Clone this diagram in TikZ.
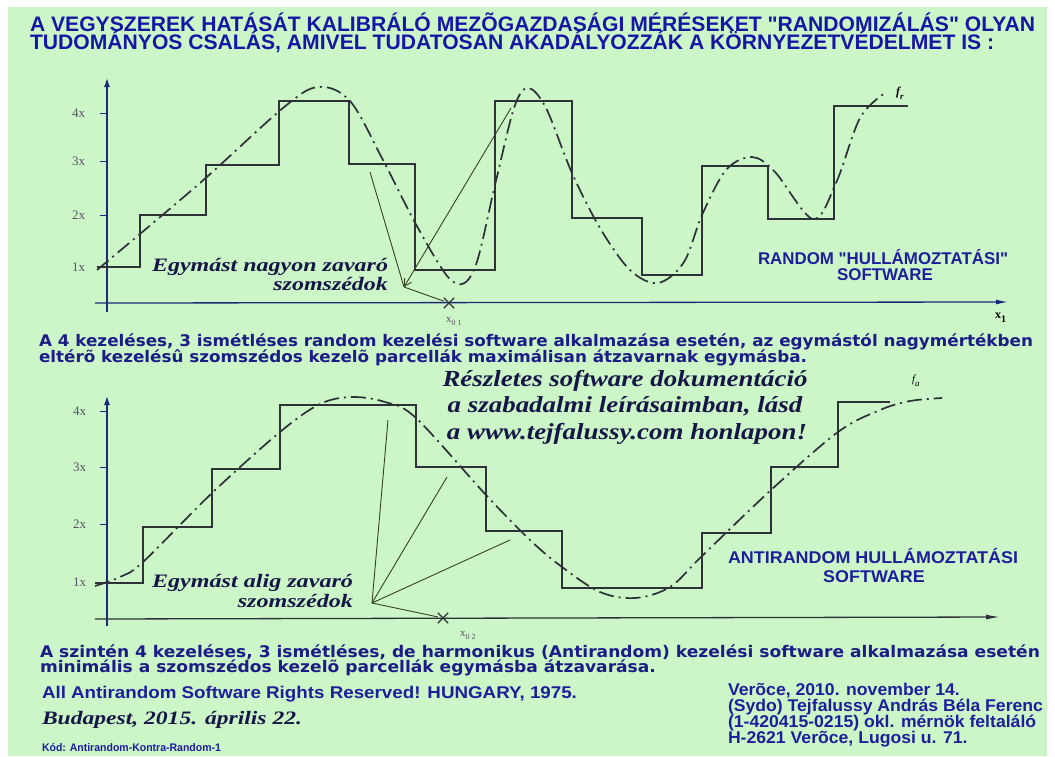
\documentclass[tikz,border=0pt]{standalone}
\usepackage{fontspec}
\usepackage{graphicx}
\setmainfont{Liberation Serif}
\newfontfamily\arialf{Liberation Sans}
\newfontfamily\dejavuf{DejaVu Sans}
\usetikzlibrary{arrows.meta,shapes.misc}
\definecolor{bggreen}{RGB}{204,246,200}
\definecolor{titleblue}{RGB}{22,22,165}
\definecolor{textnavy}{RGB}{28,28,135}
\definecolor{labelblue}{RGB}{30,30,155}
\definecolor{serifnavy}{RGB}{22,22,70}
\definecolor{curvegray}{RGB}{45,50,55}
\definecolor{axisblue}{RGB}{30,40,120}
\definecolor{ptrolive}{RGB}{55,65,35}
\definecolor{tickgray}{RGB}{85,85,95}
\newlength\mylenw
\newcommand\fitscale[3]{\settowidth{\mylenw}{#3}\pgfmathsetmacro#1{#2/\mylenw}}
\newcommand\TitleA{A VEGYSZEREK HATÁSÁT KALIBRÁLÓ MEZÕGAZDASÁGI MÉRÉSEKET "RANDOMIZÁLÁS" OLYAN}
\newcommand\TitleB{TUDOMÁNYOS CSALÁS, AMIVEL TUDATOSAN AKADÁLYOZZÁK A KÖRNYEZETVÉDELMET IS :}
\newcommand\ParAa{A 4 kezeléses, 3 ismétléses random kezelési software alkalmazása esetén, az egymástól nagymértékben}
\newcommand\ParAb{eltérõ kezelésû szomszédos kezelõ parcellák maximálisan átzavarnak egymásba.}
\newcommand\ParBa{A szintén 4 kezeléses, 3 ismétléses, de harmonikus (Antirandom) kezelési software alkalmazása esetén}
\newcommand\ParBb{minimális a szomszédos kezelõ parcellák egymásba átzavarása.}
\newcommand\ftitle{\arialf\bfseries\fontsize{21}{21}\selectfont}
\newcommand\fpar{\dejavuf\bfseries\fontsize{16}{16}\selectfont}
\newcommand\flab{\arialf\bfseries\fontsize{17}{17}\selectfont}
\newcommand\ffoot{\arialf\bfseries\fontsize{17}{17}\selectfont}
\newcommand\fser{\bfseries\itshape\fontsize{19}{19}\selectfont}
\newcommand\fserbig{\bfseries\itshape\fontsize{23}{23}\selectfont}
\newcommand\ftick{\fontsize{13}{13}\selectfont}
\begin{document}%
\fitscale{\sT}{1005pt}{\ftitle\TitleA}%
\fitscale{\sPA}{994pt}{\fpar\ParAa}%
\fitscale{\sPB}{1000pt}{\fpar\ParBa}%
\fitscale{\sLA}{250pt}{\flab RANDOM "HULLÁMOZTATÁSI"}%
\fitscale{\sLB}{290pt}{\flab ANTIRANDOM HULLÁMOZTATÁSI}%
\fitscale{\sFA}{535pt}{\ffoot All Antirandom Software Rights Reserved! HUNGARY, 1975.}%
\fitscale{\sFB}{315pt}{\ffoot (Sydo) Tejfalussy András Béla Ferenc}%
\fitscale{\sEA}{236pt}{\fser Egymást nagyon zavaró}%
\fitscale{\sEB}{201pt}{\fser Egymást alig zavaró}%
\fitscale{\sR}{365pt}{\fserbig Részletes software dokumentáció}%
\fitscale{\sBud}{260pt}{\bfseries\itshape\fontsize{19}{19}\selectfont Budapest, 2015. április 22.}%
\fitscale{\sKod}{179pt}{\arialf\bfseries\fontsize{11}{11}\selectfont Kód: Antirandom-Kontra-Random-1}%
\begin{tikzpicture}[x=1pt,y=-1pt,
  txt/.style={inner sep=0pt,outer sep=0pt},
  stepline/.style={draw=curvegray,line width=1.4pt,line join=miter},
  wave/.style={draw=curvegray,line width=1.7pt,dash pattern=on 15pt off 5pt on 2pt off 5pt},
  axisline/.style={draw=axisblue,line width=1.3pt},
  ptr/.style={draw=ptrolive,line width=0.9pt},
  tickmark/.style={draw=axisblue,line width=1pt},
  crossmark/.style={cross out,draw=curvegray,line width=1.3pt,minimum size=9pt,inner sep=0pt}]
\useasboundingbox (0,0) rectangle (1055,756);
\fill[white] (0,0) rectangle (1055,756);
\fill[bggreen] (8,7) rectangle (1047,756);
% title
\node[txt,anchor=base west,text=titleblue] (t1) at (30,31) {\scalebox{\sT}[1]{\ftitle\TitleA}};
\node[txt,anchor=base west,text=titleblue] (t2) at (30,49) {\scalebox{\sT}[1]{\ftitle\TitleB}};
% ===== top chart =====
\coordinate (ya0) at (107,312);
\coordinate (ya1) at (107,78);
\coordinate (xa0) at (95,303);
\coordinate (xa1) at (1008,302);
\draw[axisline,-{Latex[length=9pt,width=6pt]}] (ya0) -- (ya1);
\draw[axisline,-{Latex[length=12pt,width=5pt]}] (xa0) -- (xa1);
\foreach \yy/\lab [count=\i] in {113/4x,161/3x,215/2x,267/1x}{
  \coordinate (tk\i) at (100,\yy);
  \draw[tickmark] (tk\i) -- ++(7,0);
  \node[txt,text=tickgray,anchor=east] (tl\i) at (85,\yy) {\ftick \lab};
}
\draw[stepline] (97,267) -- (140,267) -- (140,215) -- (206,215) -- (206,165) -- (279,165) -- (279,101) -- (349,101) -- (349,164) -- (415,164) -- (415,270) -- (495,270) -- (495,101) -- (572,101) -- (572,218) -- (642,218) -- (642,275) -- (702,275) -- (702,166) -- (768,166) -- (768,219) -- (834,219) -- (834,106) -- (908,106);
\draw[wave] plot[smooth,tension=0.55] coordinates {(97,270) (200,183) (283,108) (318,87) (350,101) (383,160) (418,228) (452,281) (474,270) (495,185) (514,108) (528,88) (546,108) (572,173) (600,228) (630,270) (658,283) (684,262) (702,215) (726,170) (752,157) (775,172) (813,219) (836,183) (860,118) (885,93)};
\node[txt,anchor=base west] (fr) at (896,95) {\fontsize{12}{12}\selectfont\bfseries\itshape f\raisebox{-4pt}{\fontsize{9}{9}\selectfont r}};
\node[txt,anchor=base west] (x1l) at (995,318) {\fontsize{12}{12}\selectfont\bfseries x\raisebox{-4pt}{\fontsize{10}{10}\selectfont 1}};
\node[crossmark] (x01) at (449,303) {};
\node[txt,anchor=base west,text=tickgray] (x01l) at (446,322) {\fontsize{11}{11}\selectfont x\raisebox{-3pt}{\fontsize{8}{8}\selectfont 0 1}};
\node[txt,anchor=base east,text=serifnavy] (ea1) at (388,271) {\scalebox{\sEA}[1]{\fser Egymást nagyon zavaró}};
\node[txt,anchor=base east,text=serifnavy] (ea2) at (388,290) {\scalebox{\sEA}[1]{\fser szomszédok}};
\coordinate (apA) at (404,287);
\coordinate (pA1) at (370,172);
\coordinate (pA2) at (511,108);
\draw[ptr] (apA) -- (pA1);
\draw[ptr,-{Straight Barb[length=7pt,width=8pt]}] (pA2) -- (apA);
\draw[ptr] (apA) -- (x01);
\node[txt,anchor=base,text=labelblue] (rl1) at (883,264) {\scalebox{\sLA}[1]{\flab RANDOM "HULLÁMOZTATÁSI"}};
\node[txt,anchor=base,text=labelblue] (rl2) at (885,280) {\scalebox{\sLA}[1]{\flab SOFTWARE}};
% paragraph 1
\node[txt,anchor=base west,text=textnavy] (pa1) at (39,346) {\scalebox{\sPA}[1]{\fpar\ParAa}};
\node[txt,anchor=base west,text=textnavy] (pa2) at (39,362) {\scalebox{\sPA}[1]{\fpar\ParAb}};
% ===== bottom chart =====
\coordinate (yb0) at (107,626);
\coordinate (yb1) at (107,396);
\coordinate (xb0) at (95,619);
\coordinate (xb1) at (1000,617);
\draw[axisline,-{Latex[length=9pt,width=6pt]}] (yb0) -- (yb1);
\draw[axisline,draw=curvegray,-{Latex[length=14pt,width=5pt]}] (xb0) -- (xb1);
\foreach \yy/\lab [count=\i] in {411/4x,467/3x,524/2x,582/1x}{
  \coordinate (tb\i) at (100,\yy);
  \draw[tickmark] (tb\i) -- ++(7,0);
  \node[txt,text=tickgray,anchor=east] (tbl\i) at (86,\yy) {\ftick \lab};
}
\draw[stepline] (95,583) -- (143,583) -- (143,527) -- (212,527) -- (212,469) -- (280,469) -- (280,405) -- (416,405) -- (416,467) -- (486,467) -- (486,531) -- (562,531) -- (562,588) -- (702,588) -- (702,533) -- (771,533) -- (771,467) -- (838,467) -- (838,402) -- (890,402);
\draw[wave] plot[smooth,tension=0.55] coordinates {(95,586) (120,577) (143,562) (212,493) (280,432) (320,404) (352,397) (385,402) (416,418) (486,495) (530,540) (562,567) (600,592) (635,598) (670,587) (702,556) (771,490) (838,432) (880,410) (910,401) (942,398)};
\node[txt,anchor=base west] (fa) at (912,382) {\fontsize{11}{11}\selectfont\itshape f\raisebox{-4pt}{\fontsize{9}{9}\selectfont a}};
\node[crossmark] (x02) at (443,618) {};
\node[txt,anchor=base west,text=tickgray] (x02l) at (460,636) {\fontsize{11}{11}\selectfont x\raisebox{-3pt}{\fontsize{8}{8}\selectfont 0 2}};
\node[txt,anchor=base east,text=serifnavy] (eb1) at (353,587) {\scalebox{\sEB}[1]{\fser Egymást alig zavaró}};
\node[txt,anchor=base east,text=serifnavy] (eb2) at (353,607) {\scalebox{\sEB}[1]{\fser szomszédok}};
\coordinate (apB) at (372,603);
\coordinate (pB1) at (388,420);
\coordinate (pB2) at (447,477);
\coordinate (pB3) at (510,540);
\draw[ptr] (apB) -- (pB1);
\draw[ptr] (apB) -- (pB2);
\draw[ptr] (apB) -- (pB3);
\draw[ptr] (apB) -- (x02);
\node[txt,anchor=base,text=labelblue] (al1) at (873,563) {\scalebox{\sLB}[1]{\flab ANTIRANDOM HULLÁMOZTATÁSI}};
\node[txt,anchor=base,text=labelblue] (al2) at (874,582) {\scalebox{\sLB}[1]{\flab SOFTWARE}};
\node[txt,anchor=base,text=serifnavy] (rs1) at (625,386) {\scalebox{\sR}[1]{\fserbig Részletes software dokumentáció}};
\node[txt,anchor=base,text=serifnavy] (rs2) at (625,412) {\scalebox{\sR}[1]{\fserbig a szabadalmi leírásaimban, lásd}};
\node[txt,anchor=base,text=serifnavy] (rs3) at (627,439) {\scalebox{\sR}[1]{\fserbig a www.tejfalussy.com honlapon!}};
% paragraph 2
\node[txt,anchor=base west,text=textnavy] (pb1) at (40,657) {\scalebox{\sPB}[1]{\fpar\ParBa}};
\node[txt,anchor=base west,text=textnavy] (pb2) at (40,672) {\scalebox{\sPB}[1]{\fpar\ParBb}};
% footers
\node[txt,anchor=base west,text=labelblue] (fl1) at (42,698) {\scalebox{\sFA}[1]{\ffoot All Antirandom Software Rights Reserved! HUNGARY, 1975.}};
\node[txt,anchor=base west,text=serifnavy] (fl2) at (42,724) {\scalebox{\sBud}[1]{\bfseries\itshape\fontsize{19}{19}\selectfont Budapest, 2015. április 22.}};
\node[txt,anchor=base west,text=labelblue] (fl3) at (42,751) {\scalebox{\sKod}[1]{\arialf\bfseries\fontsize{11}{11}\selectfont Kód: Antirandom-Kontra-Random-1}};
\node[txt,anchor=base west,text=labelblue] (fr1) at (728,695) {\scalebox{\sFB}[1]{\ffoot Verõce, 2010. november 14.}};
\node[txt,anchor=base west,text=labelblue] (fr2) at (728,711) {\scalebox{\sFB}[1]{\ffoot (Sydo) Tejfalussy András Béla Ferenc}};
\node[txt,anchor=base west,text=labelblue] (fr3) at (728,727) {\scalebox{\sFB}[1]{\ffoot (1-420415-0215) okl. mérnök feltaláló}};
\node[txt,anchor=base west,text=labelblue] (fr4) at (728,743) {\scalebox{\sFB}[1]{\ffoot H-2621 Verõce, Lugosi u. 71.}};
\end{tikzpicture}%
\end{document}
